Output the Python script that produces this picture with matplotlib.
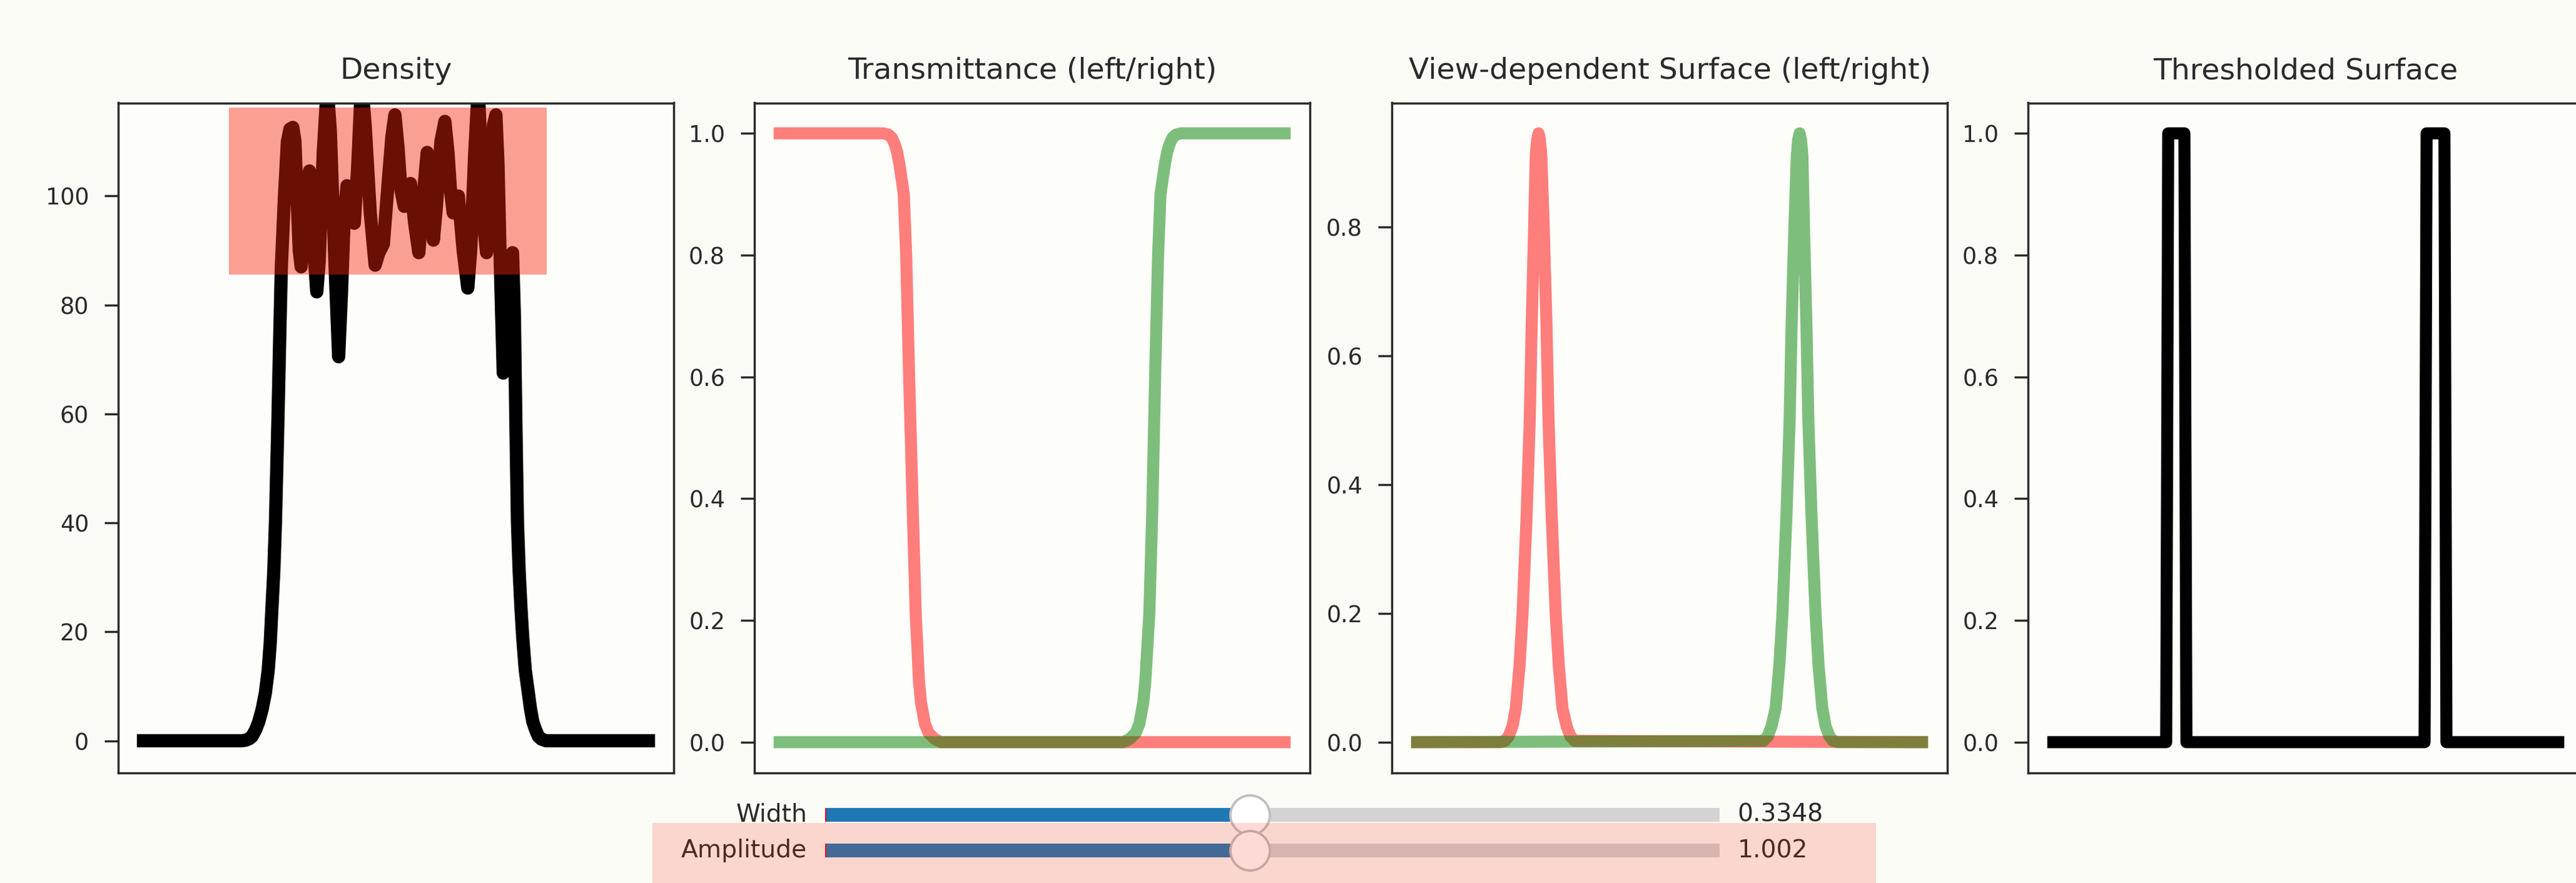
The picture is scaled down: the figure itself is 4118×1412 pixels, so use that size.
import matplotlib
matplotlib.use("Agg")
import matplotlib.pyplot as plt
from matplotlib.patches import Rectangle
from matplotlib.widgets import Slider

DPI = 277

# density sampled along the ray
density_x = [0.0, 0.1950, 0.2023, 0.2100, 0.2150, 0.2220, 0.2283, 0.2350, 0.2413,
             0.2470, 0.2510, 0.2544, 0.2580, 0.2613, 0.2660, 0.2700, 0.2730, 0.2792,
             0.2850, 0.2900, 0.2957, 0.3000, 0.3040, 0.3085, 0.3122, 0.3170, 0.3230,
             0.3287, 0.3335, 0.3390, 0.3432, 0.3480, 0.3560, 0.3638, 0.3700, 0.3790,
             0.3865, 0.3920, 0.3975, 0.4030, 0.4105, 0.4175, 0.4240, 0.4318, 0.4390,
             0.4490, 0.4587, 0.4660, 0.4751, 0.4850, 0.4920, 0.4979, 0.5040, 0.5100,
             0.5164, 0.5230, 0.5288, 0.5370, 0.5453, 0.5540, 0.5618, 0.5680, 0.5741,
             0.5800, 0.5890, 0.5969, 0.6030, 0.6080, 0.6134, 0.6236, 0.6330, 0.6422,
             0.6480, 0.6560, 0.6629, 0.6690, 0.6745, 0.6794, 0.6860, 0.6930, 0.6979,
             0.7020, 0.7070, 0.7124, 0.7180, 0.7250, 0.7309, 0.7345, 0.7375, 0.7406,
             0.7440, 0.7475, 0.7510, 0.7560, 0.7622, 0.7665, 0.7710, 0.7765, 0.7820,
             0.7880, 0.7970, 1.0]
density_y = [0, 0, 0.1, 0.4, 0.8, 2.0, 3.5, 5.8, 8.75,
             13, 18, 24.4, 31, 40, 58, 75, 87, 100,
             110, 112.3, 112.6, 110, 100, 90, 87.0, 93, 101,
             104.6, 100, 88, 82.4, 88, 108, 120, 112, 88,
             70.5, 82, 96, 101.9, 96, 95, 105, 121, 113,
             97, 87.3, 89.5, 91.2, 103, 111, 114.9, 109, 101,
             98.1, 101.5, 102.3, 95, 89.6, 100, 108.0, 100, 91.9,
             98, 110, 113.7, 108, 101, 96.9, 100.0, 90, 83.1,
             90, 108, 120, 107, 94, 89.6, 103, 113, 114.9,
             106, 86, 67.5, 75, 85, 89.6, 78, 58, 40,
             31, 24.4, 19, 13, 8.75, 5.8, 3.5, 2.0, 0.8,
             0.3, 0, 0]
density_ylim = (-5.85, 117.1)

# transmittance seen from the left and from the right
trans_left_x = [0.0, 0.205, 0.215, 0.222, 0.228, 0.2324, 0.2370, 0.2415, 0.2458,
                0.2506, 0.2561, 0.2640, 0.2695, 0.2759, 0.2800, 0.2877, 0.2950,
                0.3074, 0.3200, 1.0]
trans_left_y = [1.0, 1.0, 0.998, 0.993, 0.982, 0.97, 0.95, 0.925, 0.90,
                0.80, 0.61, 0.37, 0.21, 0.10, 0.065, 0.03, 0.015,
                0.005, 0.0, 0.0]
trans_right_x = [0.0, 0.680, 0.6926, 0.7050, 0.7123, 0.7200, 0.7241, 0.7320, 0.7376,
                 0.7438, 0.7494, 0.7542, 0.7585, 0.7630, 0.7676, 0.7720, 0.7780,
                 0.7850, 0.7950, 1.0]
trans_right_y = [0.0, 0.0, 0.005, 0.015, 0.03, 0.065, 0.10, 0.21, 0.37,
                 0.61, 0.80, 0.90, 0.925, 0.95, 0.97, 0.982, 0.993,
                 0.998, 1.0, 1.0]

# view-dependent surface (left / right)
surf_left_x = [0.0, 0.165, 0.1740, 0.1813, 0.1890, 0.1955, 0.2030, 0.2089, 0.2168,
               0.2231, 0.2270, 0.2318, 0.2349, 0.2377, 0.2405, 0.2433, 0.2460,
               0.2507, 0.2562, 0.2602, 0.2666, 0.2744, 0.2805, 0.2878, 0.2960,
               0.3036, 0.3120, 1.0]
surf_right_x = [0.0, 0.6859, 0.6943, 0.7019, 0.7101, 0.7174, 0.7235, 0.7313, 0.7377,
                0.7417, 0.7472, 0.7519, 0.7546, 0.7574, 0.7602, 0.7630, 0.7661,
                0.7709, 0.7748, 0.7811, 0.7890, 0.7949, 0.8024, 0.8089, 0.8166,
                0.8239, 0.8329, 1.0]
surf_left_y = [0.0, 0.0, 0.002, 0.009, 0.025, 0.053, 0.12, 0.20, 0.35,
               0.50, 0.65, 0.80, 0.91, 0.935, 0.945, 0.935, 0.91,
               0.80, 0.65, 0.50, 0.35, 0.20, 0.12, 0.053, 0.025,
               0.009, 0.002, 0.0]
surf_right_y = [0.0, 0.002, 0.009, 0.025, 0.053, 0.12, 0.20, 0.35, 0.50,
                0.65, 0.80, 0.91, 0.935, 0.945, 0.935, 0.91, 0.80,
                0.65, 0.50, 0.35, 0.20, 0.12, 0.053, 0.025, 0.009,
                0.002, 0.0, 0.0]

# thresholded surface
thresh_x = [0.0, 0.2236, 0.2276, 0.2597, 0.2637, 0.7353, 0.7393, 0.7746, 0.7786, 1.0]
thresh_y = [0, 0, 1, 1, 0, 0, 1, 1, 0, 0]

titles = ["Density", "Transmittance (left/right)",
          "View-dependent Surface (left/right)", "Thresholded Surface"]

# slider state
width_val = 0.3348
amp_val = 1.002

# highlight boxes
box_x = (0.169, 0.799)
box_y = (85.6, 116.2)
mark_color = (249 / 255, 37 / 255, 12 / 255)

bg = "#fbfbf6"
face = "#fdfdfa"
ink = "#2a2a2a"

W, H = 4118, 1412
fig = plt.figure(figsize=(W / DPI, H / DPI), dpi=DPI, facecolor=bg)

lefts = [189, 1206, 2225, 3242]
ax_w, ax_h, ax_top = 888, 1071, 164.5
axes = []
for i, l in enumerate(lefts):
    ax = fig.add_axes([l / W, (H - ax_top - ax_h) / H, ax_w / W, ax_h / H])
    ax.set_facecolor(face)
    ax.set_title(titles[i], fontsize=12.3, color=ink, pad=10)
    ax.set_xticks([])
    ax.tick_params(axis="y", labelsize=9.5, length=5.7, width=0.9, pad=6.5,
                   colors=ink)
    for s in ax.spines.values():
        s.set_color(ink)
        s.set_linewidth(0.9)
    axes.append(ax)

ax = axes[0]
ax.plot(density_x, density_y, color="black", lw=5.5)
ax.set_ylim(*density_ylim)
ax.add_patch(Rectangle((box_x[0], box_y[0]), box_x[1] - box_x[0], box_y[1] - box_y[0],
                       facecolor=mark_color, alpha=0.43, edgecolor="none", zorder=3))

ax = axes[1]
ax.plot(trans_left_x, trans_left_y, color="r", alpha=0.5, lw=5)
ax.plot(trans_right_x, trans_right_y, color="g", alpha=0.5, lw=5)

ax = axes[2]
ax.plot(surf_left_x, surf_left_y, color="r", alpha=0.5, lw=5)
ax.plot(surf_right_x, surf_right_y, color="g", alpha=0.5, lw=5)

ax = axes[3]
ax.plot(thresh_x, thresh_y, color="black", lw=5)

# sliders
s_left, s_w, s_h = 1319 / W, 1430 / W, 44 / H
ax_width = fig.add_axes([s_left, 87.5 / H, s_w, s_h])
ax_amp = fig.add_axes([s_left, 30 / H, s_w, s_h])
width_slider = Slider(ax_width, "Width", 0.0, 0.705, valinit=0.0, valfmt="%.4g",
                      handle_style={"size": 16.4})
amp_slider = Slider(ax_amp, "Amplitude", 0.0, 2.11, valinit=0.0, valfmt="%.4g",
                    handle_style={"size": 16.4})
width_slider.set_val(width_val)
amp_slider.set_val(amp_val)
for s in (width_slider, amp_slider):
    s.label.set_fontsize(10.2)
    s.label.set_color(ink)
    s.valtext.set_fontsize(10.2)
    s.valtext.set_color(ink)

fig.add_artist(Rectangle((1043 / W, -0.01), (2999 - 1043) / W, 96 / H + 0.01,
                         transform=fig.transFigure, facecolor=mark_color,
                         alpha=0.17, edgecolor="none", zorder=10))

fig.savefig("out.png", dpi=DPI, facecolor=bg)
